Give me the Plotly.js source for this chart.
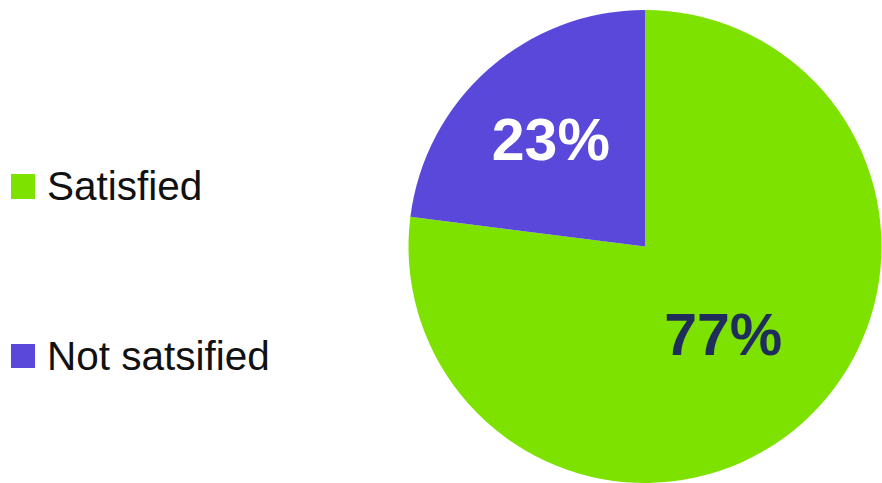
<!DOCTYPE html>
<html>
<head>
<meta charset="utf-8">
<script src="https://cdn.plot.ly/plotly-3.0.1.min.js"></script>
<style>html,body{margin:0;padding:0;background:#fff;}#chart{width:882px;height:483px;}</style>
</head>
<body>
<div id="chart"></div>
<script>
const labels = ["Satisfied", "Not satsified"];
const values = [77, 23];
const colors = ["#7EE200", "#5A48DA"];
const textColors = ["#1F2D5B", "#FFFFFF"];

const W = 882, H = 483, T = 10;
function py(p) { return (H - p) / (H - T); }

// custom legend (layout decoration)
const legendRows = [{top: 174, bottom: 199, mid: 186}, {top: 344, bottom: 368, mid: 355.5}];
const shapes = [], annotations = [];
labels.forEach((lab, i) => {
  const r = legendRows[i];
  shapes.push({type: "rect", xref: "paper", yref: "paper",
    x0: 11 / W, x1: 35 / W, y0: py(r.bottom), y1: py(r.top),
    fillcolor: colors[i], line: {width: 0}});
  annotations.push({xref: "paper", yref: "paper", x: 45 / W, y: py(r.mid),
    xanchor: "left", yanchor: "middle", showarrow: false, text: lab,
    font: {family: "Liberation Sans, Arial, sans-serif", size: 40.5, color: "#111111"}});
});

const trace = {
  type: "pie",
  labels: labels,
  values: values,
  sort: false,
  direction: "clockwise",
  rotation: 0,
  marker: {colors: colors, line: {width: 0}},
  textinfo: "percent",
  texttemplate: "%{percent:.0%}",
  textposition: "inside",
  insidetextorientation: "horizontal",
  textfont: {family: "Liberation Sans, Arial, sans-serif", size: 59, weight: "bold", color: textColors},
  hoverinfo: "none",
  showlegend: false,
  domain: {x: [408.5 / W, 881.5 / W], y: [0, 1]}
};

const layout = {
  width: W, height: H,
  margin: {l: 0, r: 0, t: T, b: 0},
  paper_bgcolor: "#ffffff",
  showlegend: false,
  shapes: shapes,
  annotations: annotations
};

Plotly.newPlot("chart", [trace], layout, {displayModeBar: false, staticPlot: true});
</script>
</body>
</html>
